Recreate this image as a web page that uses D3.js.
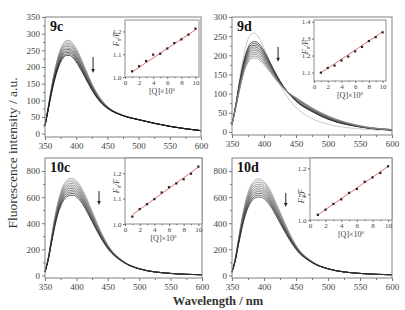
<!DOCTYPE html>
<html>
<head>
<meta charset="utf-8">
<script src="https://cdnjs.cloudflare.com/ajax/libs/d3/7.8.5/d3.min.js"></script>
<style>
  body { margin: 0; background: #fff; }
  svg { display: block; font-family: "Liberation Serif", "Times New Roman", serif; }
</style>
</head>
<body>
<svg id="chart" width="405" height="310"></svg>
<script>
// ---- data ----
var wavelengths = [350, 355, 360, 365, 370, 375, 380, 385, 390, 395, 400, 410, 420, 430, 440, 450, 475, 500, 550, 600];

var spectra9c = [
  [25, 78, 135, 185, 225, 255, 272, 280, 279, 270, 256, 216, 172, 133, 103, 82, 55, 42, 22, 9],
  [25, 77, 133, 182, 222, 251, 268, 276, 275, 266, 252, 213, 170, 131, 102, 81, 55, 42, 22, 9],
  [25, 76, 132, 180, 218, 247, 263, 271, 270, 261, 248, 209, 167, 130, 101, 81, 55, 42, 22, 9],
  [25, 76, 130, 177, 215, 243, 259, 266, 266, 257, 244, 206, 165, 128, 100, 80, 55, 42, 22, 9],
  [25, 75, 128, 174, 211, 239, 255, 262, 261, 253, 240, 203, 162, 126, 99, 80, 55, 42, 22, 9],
  [24, 74, 126, 171, 207, 234, 250, 257, 256, 248, 235, 199, 160, 124, 97, 79, 54, 42, 22, 9],
  [24, 73, 125, 169, 204, 230, 246, 253, 252, 244, 231, 196, 158, 123, 96, 78, 54, 42, 22, 9],
  [24, 72, 123, 166, 200, 226, 242, 248, 248, 240, 227, 193, 155, 121, 95, 78, 54, 42, 22, 9],
  [24, 72, 121, 163, 197, 222, 237, 244, 243, 236, 223, 190, 153, 119, 94, 77, 54, 42, 22, 9],
  [24, 71, 120, 161, 193, 218, 233, 239, 239, 231, 219, 186, 150, 118, 93, 77, 54, 42, 22, 9],
  [24, 70, 118, 158, 190, 214, 229, 235, 234, 227, 215, 183, 148, 116, 92, 76, 54, 42, 22, 9]
];

var spectra9d = [
  [18, 62, 118, 170, 213, 242, 256, 258, 251, 238, 220, 180, 140, 108, 83, 64, 35, 20, 8, 4],
  [20, 62, 112, 158, 195, 220, 233, 236, 233, 225, 212, 180, 148, 120, 98, 80, 53, 33, 13, 5],
  [20, 61, 110, 155, 191, 216, 228, 231, 228, 221, 208, 177, 146, 119, 98, 81, 54, 34, 13, 5],
  [20, 60, 108, 152, 188, 211, 224, 226, 224, 216, 204, 174, 145, 119, 98, 82, 55, 35, 14, 5],
  [20, 60, 106, 149, 184, 207, 219, 222, 219, 212, 200, 172, 143, 118, 99, 83, 56, 36, 14, 5],
  [20, 59, 104, 146, 180, 203, 214, 217, 214, 207, 196, 169, 141, 118, 99, 84, 57, 37, 14, 5],
  [20, 58, 103, 144, 177, 198, 210, 212, 210, 203, 192, 166, 140, 117, 99, 86, 59, 38, 15, 6],
  [20, 57, 101, 141, 173, 194, 205, 207, 205, 198, 188, 163, 138, 117, 99, 87, 60, 39, 15, 6],
  [20, 57, 99, 138, 169, 190, 200, 203, 200, 194, 184, 161, 136, 116, 100, 88, 61, 40, 15, 6],
  [20, 56, 97, 135, 166, 185, 196, 198, 196, 189, 180, 158, 135, 116, 100, 89, 62, 41, 16, 6],
  [20, 55, 95, 132, 162, 181, 191, 193, 191, 185, 176, 155, 133, 115, 100, 90, 63, 42, 16, 6]
];

var spectra10c = [
  [28, 130, 280, 430, 550, 640, 700, 732, 745, 743, 727, 655, 550, 435, 325, 235, 108, 52, 15, 5],
  [28, 129, 276, 423, 541, 629, 688, 719, 732, 730, 715, 644, 541, 428, 320, 232, 107, 52, 15, 5],
  [28, 127, 272, 416, 532, 618, 676, 706, 719, 717, 702, 633, 532, 421, 316, 229, 106, 52, 15, 5],
  [28, 126, 268, 409, 523, 607, 663, 693, 705, 705, 690, 622, 522, 414, 311, 226, 106, 51, 15, 5],
  [28, 124, 264, 402, 514, 596, 651, 680, 692, 692, 677, 611, 513, 407, 306, 223, 105, 51, 15, 5],
  [28, 123, 260, 395, 505, 585, 639, 668, 679, 679, 665, 600, 504, 400, 302, 220, 104, 51, 15, 5],
  [28, 121, 256, 388, 496, 574, 627, 655, 666, 666, 652, 589, 495, 393, 297, 217, 103, 51, 15, 5],
  [28, 120, 252, 381, 487, 563, 615, 642, 653, 653, 640, 578, 486, 386, 292, 214, 102, 51, 15, 5],
  [28, 118, 248, 374, 478, 552, 602, 629, 639, 641, 627, 567, 476, 379, 287, 211, 102, 50, 15, 5],
  [28, 117, 244, 367, 469, 541, 590, 616, 626, 628, 615, 556, 467, 372, 283, 208, 101, 50, 15, 5],
  [28, 115, 240, 360, 460, 530, 578, 603, 613, 615, 602, 545, 458, 365, 278, 205, 100, 50, 15, 5]
];

var spectra10d = [
  [25, 125, 275, 425, 545, 635, 695, 728, 740, 738, 722, 650, 545, 432, 322, 232, 107, 52, 15, 5],
  [25, 124, 271, 418, 535, 623, 682, 714, 726, 724, 709, 638, 535, 424, 317, 229, 106, 52, 15, 5],
  [25, 122, 266, 410, 526, 612, 669, 700, 712, 710, 695, 626, 525, 417, 312, 226, 105, 52, 15, 5],
  [25, 121, 262, 403, 516, 600, 656, 687, 698, 697, 682, 615, 516, 409, 307, 222, 104, 51, 15, 5],
  [25, 119, 258, 395, 506, 588, 643, 673, 684, 683, 668, 603, 506, 402, 302, 219, 103, 51, 15, 5],
  [25, 118, 254, 388, 497, 577, 630, 659, 670, 669, 655, 591, 496, 394, 297, 216, 103, 51, 15, 5],
  [25, 116, 249, 380, 487, 565, 617, 645, 656, 655, 642, 579, 486, 386, 292, 213, 102, 51, 15, 5],
  [25, 115, 245, 373, 477, 553, 604, 631, 642, 641, 628, 567, 476, 379, 287, 210, 101, 51, 15, 5],
  [25, 113, 241, 365, 467, 541, 591, 618, 628, 628, 615, 556, 467, 371, 282, 206, 100, 50, 15, 5],
  [25, 112, 236, 358, 458, 530, 578, 604, 614, 614, 601, 544, 457, 364, 277, 203, 99, 50, 15, 5],
  [25, 110, 232, 350, 448, 518, 565, 590, 600, 600, 588, 532, 447, 356, 272, 200, 98, 50, 15, 5]
];

// Stern-Volmer insets
var conc = [1, 2, 3, 4, 5, 6, 7, 8, 9, 10];
var ratio9c = [1.025, 1.047, 1.07, 1.098, 1.102, 1.125, 1.149, 1.165, 1.186, 1.212];
var ratio9d = [1.099, 1.127, 1.141, 1.171, 1.194, 1.225, 1.251, 1.286, 1.309, 1.337];
var ratio10c = [1.029, 1.059, 1.078, 1.098, 1.124, 1.145, 1.16, 1.176, 1.198, 1.226];
var ratio10d = [1.02, 1.04, 1.062, 1.08, 1.105, 1.12, 1.148, 1.165, 1.182, 1.208];
var fit9c = [1.022, 1.207];
var fit9d = [1.098, 1.34];
var fit10c = [1.036, 1.224];
var fit10d = [1.02, 1.207];

// ticks
var xTicks = [350, 400, 450, 500, 550, 600];
var xMinor = [375, 425, 475, 525, 575];
var yTicks9c = [0, 50, 100, 150, 200, 250, 300, 350];
var yTicks9d = [0, 50, 100, 150, 200, 250, 300];
var yTicks10 = [0, 200, 400, 600, 800];
var insetXTicks = [0, 2, 4, 6, 8, 10];
var insetXMinor = [1, 3, 5, 7, 9];

// arrows: [wavelength, from, to]
var arrow9c = [427, 230, 182];
var arrow9d = [422, 222, 183];
var arrow10c = [436, 647, 540];
var arrow10d = [434, 632, 524];

var svg = d3.select('#chart');
var frameColor = '#808080';
var textColor = '#444';

function greys(from, to, n) {
  var c = d3.interpolateRgb(from, to);
  return function (i) { return c(n > 1 ? i / (n - 1) : 0); };
}

function styleAxis(sel, size) {
  sel.select('.domain').remove();
  sel.selectAll('.tick line').attr('stroke', '#555').attr('stroke-width', 0.8);
  sel.selectAll('.tick text').attr('fill', textColor).attr('font-size', size)
    .attr('font-family', '"Liberation Serif", serif');
}

function drawPanel(p) {
  var x = d3.scaleLinear().domain([350, 600]).range([p.box[0], p.box[1]]);
  var y = d3.scaleLinear().domain(p.yDomain).range([p.box[3], p.box[2]]);
  var g = svg.append('g');

  var line = d3.line()
    .x(function (d, i) { return x(wavelengths[i]); })
    .y(function (d) { return y(d); })
    .curve(d3.curveMonotoneX);

  p.spectra.forEach(function (s, i) {
    g.append('path').datum(s).attr('d', line)
      .attr('fill', 'none').attr('stroke', p.color(i)).attr('stroke-width', 0.7);
  });

  // axes
  var gx = g.append('g').attr('transform', 'translate(0,' + p.box[3] + ')')
    .call(d3.axisBottom(x).tickValues(xTicks).tickSize(3).tickPadding(3));
  styleAxis(gx, 9);
  var gxm = g.append('g').attr('transform', 'translate(0,' + p.box[3] + ')')
    .call(d3.axisBottom(x).tickValues(xMinor).tickSize(2).tickFormat(''));
  styleAxis(gxm, 9);

  var gy = g.append('g').attr('transform', 'translate(' + p.box[0] + ',0)')
    .call(d3.axisLeft(y).tickValues(p.yTicks).tickSize(3).tickPadding(2));
  styleAxis(gy, 9);
  var gym = g.append('g').attr('transform', 'translate(' + p.box[0] + ',0)')
    .call(d3.axisLeft(y).tickValues(p.yMinor).tickSize(2).tickFormat(''));
  styleAxis(gym, 9);

  g.append('rect')
    .attr('x', p.box[0]).attr('y', p.box[2])
    .attr('width', p.box[1] - p.box[0]).attr('height', p.box[3] - p.box[2])
    .attr('fill', 'none').attr('stroke', frameColor).attr('stroke-width', 1);

  g.append('text').attr('x', p.box[0] + 5).attr('y', p.box[2] + 14)
    .attr('font-size', 14).attr('font-weight', 'bold').attr('fill', '#111')
    .text(p.name);

  // quench arrow
  var ax = x(p.arrow[0]), a0 = y(p.arrow[1]), a1 = y(p.arrow[2]);
  g.append('line').attr('x1', ax).attr('x2', ax).attr('y1', a0).attr('y2', a1 - 4)
    .attr('stroke', '#222').attr('stroke-width', 1);
  g.append('path')
    .attr('d', 'M' + (ax - 1.8) + ',' + (a1 - 4) + 'L' + (ax + 1.8) + ',' + (a1 - 4) + 'L' + ax + ',' + a1 + 'Z')
    .attr('fill', '#222');

  drawInset(g, p);
}

function drawInset(parent, p) {
  var b = p.inset;
  var x = d3.scaleLinear().domain([0, 10.5]).range([b[0], b[1]]);
  var y = d3.scaleLinear().domain(p.iyDomain).range([b[3], b[2]]);
  var g = parent.append('g');

  g.append('rect').attr('x', b[0]).attr('y', b[2])
    .attr('width', b[1] - b[0]).attr('height', b[3] - b[2])
    .attr('fill', '#fff').attr('stroke', frameColor).attr('stroke-width', 0.9);

  g.append('line')
    .attr('x1', x(conc[0])).attr('y1', y(p.fit[0]))
    .attr('x2', x(conc[conc.length - 1])).attr('y2', y(p.fit[1]))
    .attr('stroke', '#e06060').attr('stroke-width', 0.9);

  g.selectAll('rect.pt').data(p.ratio).enter().append('rect')
    .attr('class', 'pt')
    .attr('x', function (d, i) { return x(conc[i]) - 1.1; })
    .attr('y', function (d) { return y(d) - 1.1; })
    .attr('width', 2.2).attr('height', 2.2).attr('fill', '#222');

  var gx = g.append('g').attr('transform', 'translate(0,' + b[3] + ')')
    .call(d3.axisBottom(x).tickValues(insetXTicks).tickSize(2).tickPadding(1.5));
  styleAxis(gx, 7);
  var gxm = g.append('g').attr('transform', 'translate(0,' + b[3] + ')')
    .call(d3.axisBottom(x).tickValues(insetXMinor).tickSize(1.2).tickFormat(''));
  styleAxis(gxm, 7);
  var gy = g.append('g').attr('transform', 'translate(' + b[0] + ',0)')
    .call(d3.axisLeft(y).tickValues(p.iyTicks).tickSize(2).tickPadding(1.5).tickFormat(d3.format('.1f')));
  styleAxis(gy, 7);

  var xl = g.append('text').attr('x', (b[0] + b[1]) / 2).attr('y', b[3] + 17)
    .attr('text-anchor', 'middle').attr('font-size', 8).attr('fill', textColor);
  xl.append('tspan').text('[Q]\u00d710');
  xl.append('tspan').attr('font-size', 5).attr('dy', -3).text('6');

  var yl = g.append('text')
    .attr('transform', 'translate(' + (b[0] - 6) + ',' + p.iyLabel + ') rotate(-90)')
    .attr('text-anchor', 'middle').attr('font-size', 8).attr('font-style', 'italic')
    .attr('fill', textColor);
  yl.append('tspan').text('F');
  yl.append('tspan').attr('font-size', 5).attr('dy', 2).text('0');
  yl.append('tspan').attr('dy', -2).text('/F');
}

var panels = [
  { name: '9c', spectra: spectra9c, box: [45, 201, 17, 137], yDomain: [-10, 350],
    yTicks: yTicks9c, yMinor: [25, 75, 125, 175, 225, 275, 325], arrow: arrow9c,
    color: greys('#9a9a9a', '#151515', spectra9c.length),
    inset: [125, 199, 20, 77], iyDomain: [1.0, 1.25], iyTicks: [1.0, 1.1, 1.2],
    ratio: ratio9c, fit: fit9c, iyLabel: 39 },
  { name: '9d', spectra: spectra9d, box: [232, 392, 17, 135], yDomain: [-8, 300],
    yTicks: yTicks9d, yMinor: [25, 75, 125, 175, 225, 275], arrow: arrow9d,
    color: function (i) { return i === 0 ? '#b5b5b5' : greys('#151515', '#8a8a8a', spectra9d.length - 1)(i - 1); },
    inset: [314, 386, 20, 81], iyDomain: [1.05, 1.41], iyTicks: [1.1, 1.2, 1.3, 1.4],
    ratio: ratio9d, fit: fit9d, iyLabel: 47 },
  { name: '10c', spectra: spectra10c, box: [45, 202, 158, 278], yDomain: [-20, 900],
    yTicks: yTicks10, yMinor: [100, 300, 500, 700], arrow: arrow10c,
    color: greys('#a0a0a0', '#252525', spectra10c.length),
    inset: [125, 202, 158, 224], iyDomain: [1.0, 1.26], iyTicks: [1.0, 1.1, 1.2],
    ratio: ratio10c, fit: fit10c, iyLabel: 186 },
  { name: '10d', spectra: spectra10d, box: [232, 392, 158, 278], yDomain: [-20, 900],
    yTicks: yTicks10, yMinor: [100, 300, 500, 700], arrow: arrow10d,
    color: greys('#a0a0a0', '#252525', spectra10d.length),
    inset: [310, 392, 158, 220], iyDomain: [1.0, 1.24], iyTicks: [1.0, 1.1, 1.2],
    ratio: ratio10d, fit: fit10d, iyLabel: 196 }
];

panels.forEach(drawPanel);

// shared axis titles
svg.append('text')
  .attr('transform', 'translate(17,153) rotate(-90)')
  .attr('text-anchor', 'middle').attr('font-size', 13.5).attr('fill', '#333')
  .text('Fluorescence intensity / a.u.');
svg.append('text')
  .attr('x', 218).attr('y', 305)
  .attr('text-anchor', 'middle').attr('font-size', 12.5).attr('font-weight', 'bold').attr('fill', '#333')
  .text('Wavelength / nm');
</script>
</body>
</html>
